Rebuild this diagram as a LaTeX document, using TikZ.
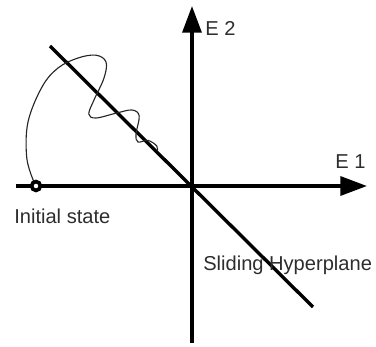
\documentclass[tikz,border=0pt]{standalone}
\usepackage{fontspec}
\setmainfont{Liberation Sans}
\usepackage{tikz}
\usetikzlibrary{arrows.meta,positioning}
\definecolor{LabelGrey}{RGB}{45,45,45}
\tikzset{
  axisline/.style={line width=2.5pt,-{Triangle[length=19pt,width=13.5pt]}},
  hypline/.style={line width=2.4pt},
  pathline/.style={line width=0.8pt,black!85},
  lbl/.style={LabelGrey,font=\fontsize{14.3}{16}\selectfont,inner sep=0pt}
}
\begin{document}
\begin{tikzpicture}
        \useasboundingbox (-4.8,-4.0) rectangle (4.6,4.65);
        \coordinate (O) at (0,0);
        \coordinate (xl) at (-4.4,0);
        \coordinate (xr) at (4.375,0);
        \coordinate (yb) at (0,-3.925);
        \coordinate (yt) at (0,4.5);
        \coordinate (h1) at (-3.55,3.5);
        \coordinate (h2) at (3.025,-3.025);
        % axes and sliding line
        \draw[axisline] (xl) -- (xr);
        \draw[axisline] (yb) -- (yt);
        \draw[hypline] (h1) -- (h2);
        % trajectory from the initial state
        \draw[pathline]
          plot[smooth,tension=0.6] coordinates {
            (-3.95,0.1) (-4.13,0.7) (-4.1,1.6) (-3.75,2.475)
            (-3.35,2.95) (-2.85,3.2) (-2.4,3.27) (-2.15,3.1)
            (-2.2,2.7) (-2.45,2.15) (-2.58,1.8) (-2.4,1.7)
            (-1.9,1.82) (-1.5,1.9) (-1.32,1.75) (-1.4,1.3)
            (-1.35,1.1) (-1.1,1.14) (-0.88,1.0) (-0.87,0.87)};
        \node[circle,draw,fill=white,line width=2.6pt,minimum size=0.22cm,
          inner sep=0pt] (x0) at (-3.9,0) {};
        % labels
        \node[lbl,anchor=base west] (init) at (-4.45,-0.925) {Initial state};
        \node[lbl,anchor=base west] (e2) at (0.325,3.775) {E 2};
        \node[lbl,anchor=base west] (e1) at (3.575,0.45) {E 1};
        \node[lbl,anchor=base west] (hyp) at (0.275,-2.1) {Sliding Hyperplane};
      \end{tikzpicture}
\end{document}
